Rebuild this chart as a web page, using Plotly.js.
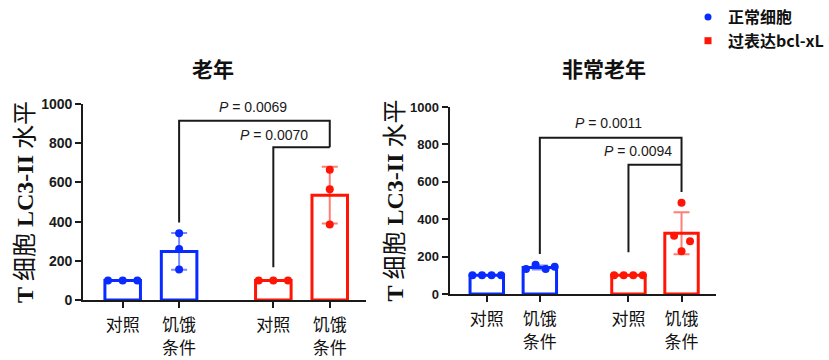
<!DOCTYPE html>
<html>
<head>
<meta charset="utf-8">
<script src="https://cdn.plot.ly/plotly-3.0.1.min.js"></script>
<style>html,body{margin:0;padding:0;background:#fff;}#chart{width:829px;height:360px;}</style>
</head>
<body>
<div id="chart"></div>
<script>
// ---------- data ----------
const categories = ["对照", "饥饿<br>条件", "对照", "饥饿<br>条件"];
const panelTitles = ["老年", "非常老年"];
const seriesNames = ["正常细胞", "过表达bcl-xL"];
const yTitle = "<b>T</b> 细胞 <b>LC3-II</b> 水平";
const yTicks = [0, 200, 400, 600, 800, 1000];

// 老年 (aged)
const oldMeans = [100, 248, 100, 535];
const oldSD = [0, 94, 0, 145];
const oldPoints = [[100, 100, 100], [340, 260, 155], [100, 100, 100], [665, 565, 385]];
// 非常老年 (very aged)
const vOldMeans = [100, 142, 100, 325];
const vOldSD = [0, 11, 0, 112];
const vOldPoints = [[100, 100, 100, 100], [134, 157, 134, 146], [100, 100, 100, 100], [488, 312, 282, 229]];

// significance brackets: [leftIdx, rightIdx, topY, leftLegBottom, rightLegBottom], labels
const oldBrackets = [[1, 3, 915, 396, 779], [2, 3, 779, 167, 779]];
const oldPLabels = ["0.0069", "0.0070"];
const vOldBrackets = [[1, 3, 836, 214, 545], [2, 3, 691, 223, 691]];
const vOldPLabels = ["0.0011", "0.0094"];

// ---------- layout helpers (positions / styles) ----------
const groupPos = [0, 1, 2.67, 3.67];
const oldJitter = [[-0.26, 0, 0.26], [0, 0, 0], [-0.26, 0, 0.26], [0, 0, 0]];
const vOldJitter = [[-0.27, -0.09, 0.09, 0.27], [-0.26, -0.08, 0.11, 0.28], [-0.27, -0.09, 0.09, 0.27], [0, -0.14, 0.16, 0]];
const oldPLabelPos = [[2.31, 985], [2.69, 842]];
const vOldPLabelPos = [[2.30, 914], [2.85, 765]];

const BLUE = "#0a2bff";
const RED = "#ff1505";
const BLUE_ERR = "rgba(10,43,255,0.55)";
const RED_ERR = "rgba(255,21,5,0.55)";
const colorOf = i => (i < 2 ? BLUE : RED);

const traces = [];
const annotations = [];

function addPanel(means, sd, points, jitter, brackets, pLabels, pPos, xa, ya, barW) {
  [[0, 1], [2, 3]].forEach((grp, gi) => {
    traces.push({
      type: "bar", xaxis: xa, yaxis: ya,
      x: grp.map(i => groupPos[i]), y: grp.map(i => means[i]),
      width: barW,
      marker: {color: "rgba(255,255,255,0)", line: {color: gi === 0 ? BLUE : RED, width: 3}},
      error_y: {type: "data", array: grp.map(i => sd[i]), visible: true,
                color: gi === 0 ? BLUE_ERR : RED_ERR, thickness: 2, width: 8},
      showlegend: false, hoverinfo: "skip"
    });
  });
  brackets.forEach(b => {
    const xl = groupPos[b[0]], xr = groupPos[b[1]];
    traces.push({
      type: "scatter", mode: "lines", xaxis: xa, yaxis: ya,
      x: [xl, xl, xr, xr], y: [b[3], b[2], b[2], b[4]],
      line: {color: "#1a1a1a", width: 2}, showlegend: false, hoverinfo: "skip"
    });
  });
  points.forEach((pts, i) => {
    traces.push({
      type: "scatter", mode: "markers", xaxis: xa, yaxis: ya,
      x: pts.map((v, k) => groupPos[i] + jitter[i][k]), y: pts,
      marker: {color: colorOf(i), size: 8, symbol: "circle"},
      showlegend: false, hoverinfo: "skip", cliponaxis: false
    });
  });
  pLabels.forEach((p, k) => {
    annotations.push({
      xref: xa, yref: ya, x: pPos[k][0], y: pPos[k][1],
      text: "<i>P</i> = " + p, showarrow: false,
      font: {family: "Liberation Sans, Arial, sans-serif", size: 14, color: "#1a1a1a"},
      xanchor: "center", yanchor: "middle"
    });
  });
}

addPanel(oldMeans, oldSD, oldPoints, oldJitter, oldBrackets, oldPLabels, oldPLabelPos, "x", "y", 0.63);
addPanel(vOldMeans, vOldSD, vOldPoints, vOldJitter, vOldBrackets, vOldPLabels, vOldPLabelPos, "x2", "y2", 0.63);

// legend entries
traces.push({type: "scatter", mode: "markers", x: [null], y: [null], name: seriesNames[0],
  marker: {color: BLUE, size: 7, symbol: "circle"}, showlegend: true, hoverinfo: "skip"});
traces.push({type: "scatter", mode: "markers", x: [null], y: [null], name: seriesNames[1],
  marker: {color: RED, size: 7, symbol: "square"}, showlegend: true, hoverinfo: "skip"});

// panel titles
annotations.push({xref: "paper", yref: "paper", x: 215 / 829, y: 1 - 68 / 360, text: panelTitles[0],
  showarrow: false, xanchor: "center", yanchor: "middle",
  font: {family: "Noto Sans CJK SC", size: 21, weight: "bold", color: "#111"}});
annotations.push({xref: "paper", yref: "paper", x: 610 / 829, y: 1 - 68 / 360, text: panelTitles[1],
  showarrow: false, xanchor: "center", yanchor: "middle",
  font: {family: "Noto Sans CJK SC", size: 21, weight: "bold", color: "#111"}});

function xAxis(domain, range, anchor) {
  return {
    domain: domain, range: range, anchor: anchor,
    tickmode: "array", tickvals: groupPos, ticktext: categories,
    ticks: "outside", ticklen: 6, tickwidth: 2, tickcolor: "#1a1a1a",
    ticklabelstandoff: 3,
    showline: true, linewidth: 2, linecolor: "#1a1a1a",
    showgrid: false, zeroline: false, fixedrange: true,
    tickfont: {family: "Noto Sans CJK SC", size: 17, color: "#111"}
  };
}
function yAxis(domain, anchor, standoff, tickSize) {
  return {
    domain: domain, range: [0, 1000], anchor: anchor,
    tickmode: "array", tickvals: yTicks,
    ticks: "outside", ticklen: 6, tickwidth: 2, tickcolor: "#1a1a1a",
    showline: true, linewidth: 2, linecolor: "#1a1a1a",
    showgrid: false, zeroline: false, fixedrange: true,
    tickfont: {family: "Liberation Sans, Arial, sans-serif", size: tickSize, weight: "bold", color: "#1a1a1a"},
    title: {text: yTitle, standoff: standoff,
            font: {family: "Liberation Serif, Noto Sans CJK SC", size: 24, color: "#111"}}
  };
}

const layout = {
  width: 829, height: 360,
  margin: {l: 0, r: 0, t: 0, b: 0},
  paper_bgcolor: "#fff", plot_bgcolor: "rgba(0,0,0,0)",
  showlegend: true,
  legend: {x: 0.838, y: 1, xanchor: "left", yanchor: "top", bgcolor: "rgba(0,0,0,0)",
           font: {family: "Noto Sans CJK SC", size: 16, weight: "bold", color: "#111"}},
  xaxis: xAxis([84 / 829, 370 / 829], [-0.7, 4.32], "y"),
  yaxis: yAxis([1 - 300 / 360, 1 - 104 / 360], "x", 1, 14),
  xaxis2: xAxis([454 / 829, 723 / 829], [-0.7, 4.32], "y2"),
  yaxis2: yAxis([1 - 294 / 360, 1 - 107 / 360], "x2", 0, 13),
  annotations: annotations,
  bargap: 0
};

Plotly.newPlot("chart", traces, layout, {displayModeBar: false, staticPlot: true});
</script>
</body>
</html>
